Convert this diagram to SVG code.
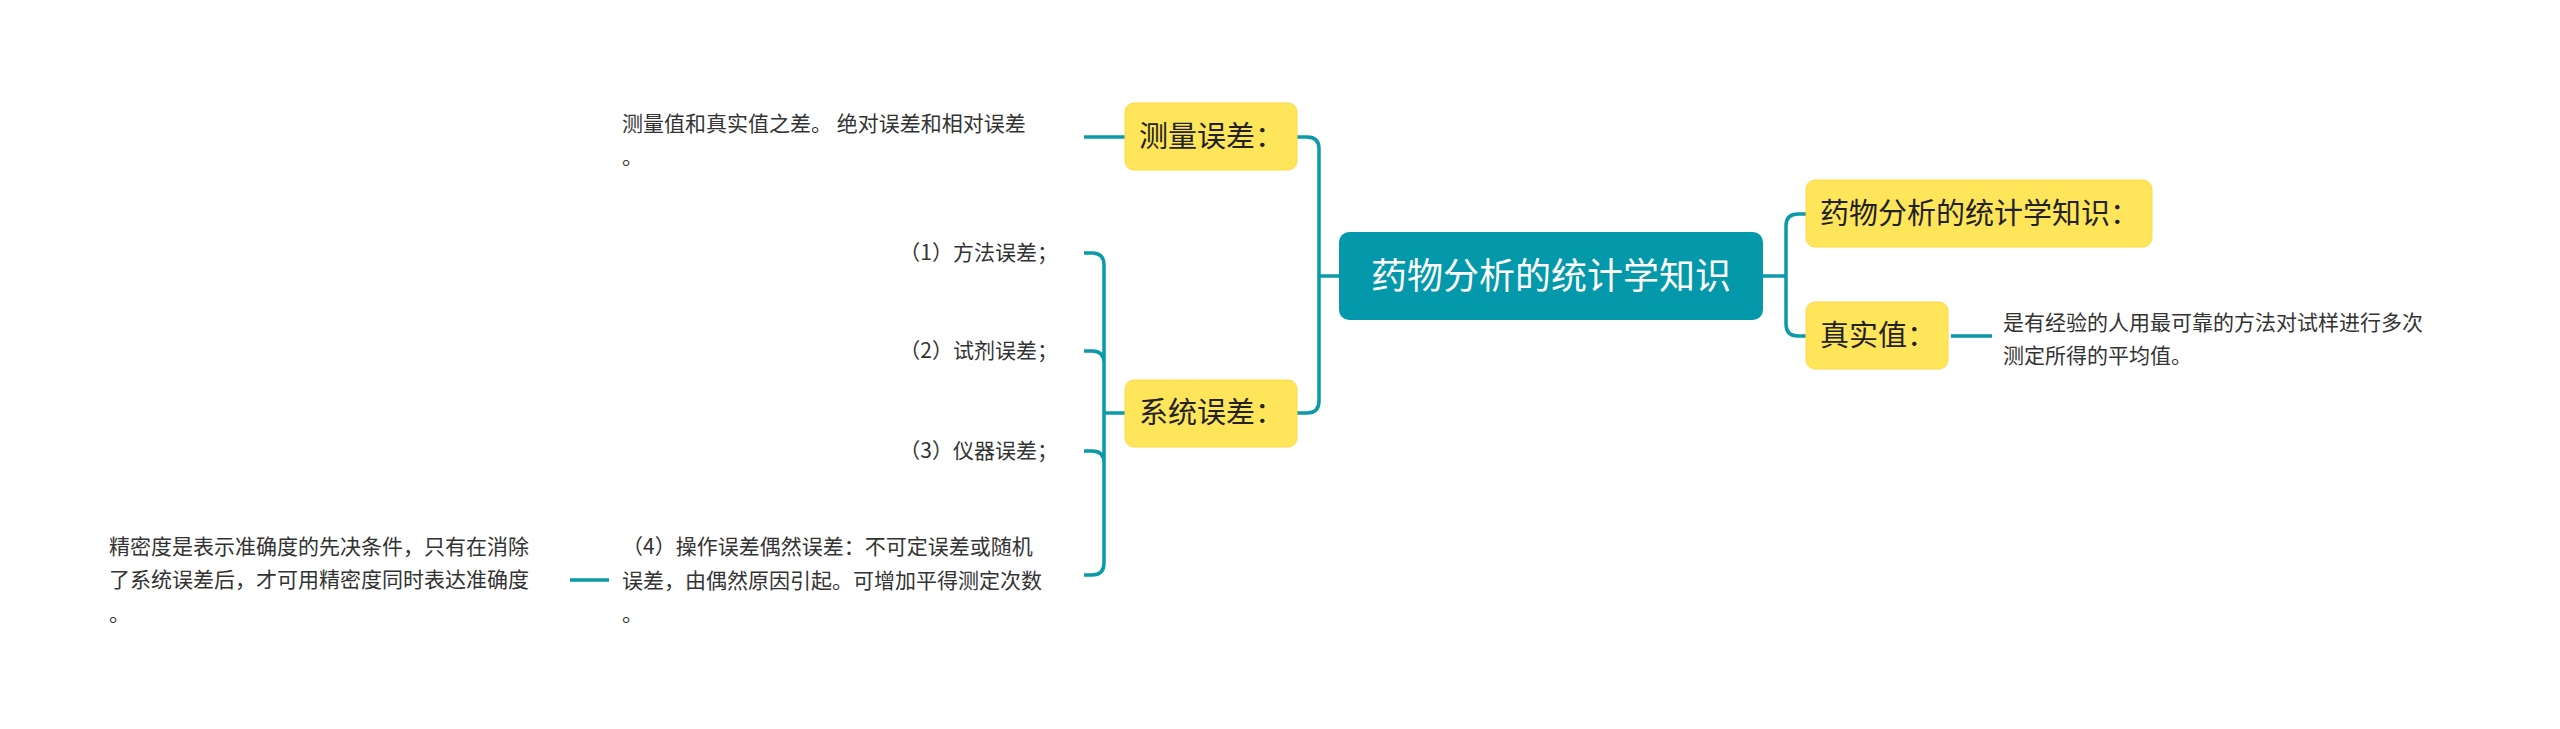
<svg xmlns="http://www.w3.org/2000/svg" width="2560" height="729" viewBox="0 0 2560 729">
<style>
text{font-family:"Noto Sans CJK SC","Noto Sans",sans-serif}
.y{fill:#ffe55a;stroke:#ffd84a;stroke-width:1}
.nt{font-size:29px;fill:#222}
.lf{font-size:21px;fill:#333}
.c{fill:none;stroke:#0a9aa8;stroke-width:3.5}
</style>
<rect width="2560" height="729" fill="#fff"/>
<g id="connectors">
<path class="c" d="M1339 276H1319M1297 137H1307Q1319 137 1319 149V401Q1319 413 1307 413H1297"/>
<path class="c" d="M1763 276H1786M1806 214H1798Q1786 214 1786 226V324Q1786 336 1798 336H1806"/>
<path class="c" d="M1951 336H1992"/>
<path class="c" d="M1125 137H1084"/>
<path class="c" d="M1125 413H1104M1084 253H1092Q1104 253 1104 265V563Q1104 575 1092 575H1084M1084 351H1092Q1104 351 1104 363M1084 451H1092Q1104 451 1104 463"/>
<path class="c" d="M570 580H609"/>
</g>
<g id="root"><rect x="1339" y="232" width="424" height="88" rx="10" fill="#0399ab"/><text x="1551" y="289" font-size="36" fill="#fff" text-anchor="middle">药物分析的统计学知识</text></g>
<g id="n1"><rect class="y" x="1125" y="103" width="172" height="67" rx="9"/><text class="nt" x="1139" y="147">测量误差：</text></g>
<g id="n2"><rect class="y" x="1125" y="380" width="172" height="67" rx="9"/><text class="nt" x="1139" y="423">系统误差：</text></g>
<g id="n3"><rect class="y" x="1806" y="180" width="346" height="67" rx="9"/><text class="nt" x="1820" y="224">药物分析的统计学知识：</text></g>
<g id="n4"><rect class="y" x="1806" y="302" width="142" height="67" rx="9"/><text class="nt" x="1820" y="346">真实值：</text></g>
<g id="l1"><text class="lf" x="2003" y="330">是有经验的人用最可靠的方法对试样进行多次</text><text class="lf" x="2003" y="363">测定所得的平均值。</text></g>
<g id="l2"><text class="lf" x="622" y="131">测量值和真实值之差。 绝对误差和相对误差</text><text class="lf" x="622" y="164">。</text></g>
<g id="l3"><text class="lf" x="1058" y="260" text-anchor="end">（1）方法误差；</text></g>
<g id="l4"><text class="lf" x="1058" y="358" text-anchor="end">（2）试剂误差；</text></g>
<g id="l5"><text class="lf" x="1058" y="458" text-anchor="end">（3）仪器误差；</text></g>
<g id="l6"><text class="lf" x="622" y="554">（4）操作误差偶然误差：不可定误差或随机</text><text class="lf" x="622" y="588">误差，由偶然原因引起。可增加平得测定次数</text><text class="lf" x="622" y="621">。</text></g>
<g id="l7"><text class="lf" x="109" y="554">精密度是表示准确度的先决条件，只有在消除</text><text class="lf" x="109" y="587">了系统误差后，才可用精密度同时表达准确度</text><text class="lf" x="109" y="621">。</text></g>
</svg>
